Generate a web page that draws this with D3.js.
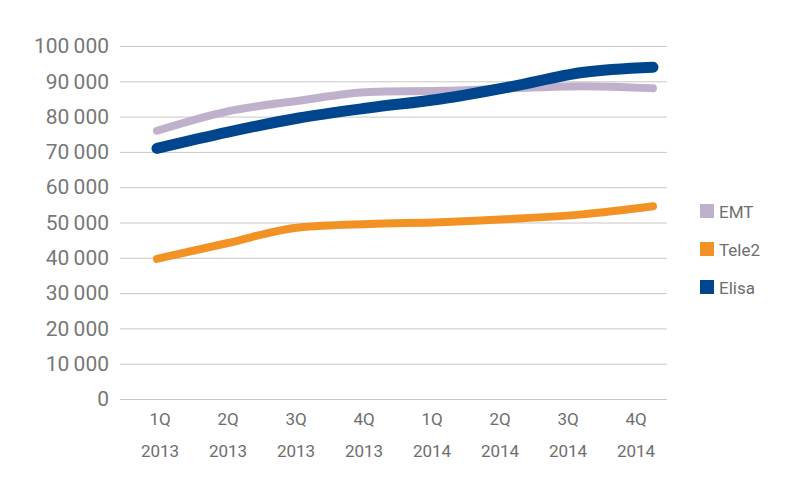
<!DOCTYPE html>
<html>
<head>
<meta charset="utf-8">
<script src="https://cdn.jsdelivr.net/npm/d3@7"></script>
<style>
  body { margin: 0; background: #fff; }
  svg { font-family: Roboto, "DejaVu Sans", sans-serif; }
</style>
</head>
<body>
<div id="container"></div>
<script>
let w = 800;
let h = 477;

// data
let quarters = ["1Q", "2Q", "3Q", "4Q", "1Q", "2Q", "3Q", "4Q"];
let years = ["2013", "2013", "2013", "2013", "2014", "2014", "2014", "2014"];
let emt = [76000, 81500, 84500, 87000, 87300, 88000, 88600, 88000];
let tele2 = [39700, 44200, 48600, 49600, 50100, 51000, 52300, 54600];
let elisa = [71000, 75600, 79600, 82500, 85000, 88500, 92500, 94000];
let yTicks = [0, 10000, 20000, 30000, 40000, 50000, 60000, 70000, 80000, 90000, 100000];

let series = [
  {name: "EMT", values: emt, color: "#bfb1cc", width: 8},
  {name: "Tele2", values: tele2, color: "#f39224", width: 8},
  {name: "Elisa", values: elisa, color: "#00468e", width: 11}
];

let idx = d3.range(quarters.length);

let viz = d3.select("#container").append("svg")
    .attr("width", w)
    .attr("height", h);

let yScale = d3.scaleLinear().domain([0, 100000]).range([399, 46]);
// category slots for the labels
let xBand = d3.scaleBand().domain(idx).range([126, 670]);
// points used by the lines
let xPoint = d3.scalePoint().domain(idx).range([157, 653]);

let fmt = d3.formatLocale({decimal: ",", thousands: "\u2009", grouping: [3], currency: ["", ""]}).format(",d");

// gridlines + y labels
let yAxis = d3.axisLeft(yScale)
  .tickValues(yTicks)
  .tickSize(-(667 - 120))
  .tickPadding(11)
  .tickFormat(fmt);
let yAxisGroup = viz.append("g")
  .attr("transform", "translate(120,0)")
  .call(yAxis);
yAxisGroup.select(".domain").remove();
yAxisGroup.selectAll("line").attr("stroke", "#c8c8c8").attr("stroke-width", 1);
yAxisGroup.selectAll("text")
  .attr("fill", "#777777")
  .style("font-size", "21px")
  .style("font-family", "Roboto, sans-serif");

// x labels (two lines)
let xAxisGroup = viz.append("g").classed("xAxis", true);
xAxisGroup.selectAll("text.q")
  .data(idx)
  .enter()
  .append("text")
  .attr("x", d => xBand(d) + xBand.bandwidth() / 2)
  .attr("y", 425)
  .attr("text-anchor", "middle")
  .attr("fill", "#6e6e6e")
  .style("font-size", "17px")
  .text(d => quarters[d]);
xAxisGroup.selectAll("text.y")
  .data(idx)
  .enter()
  .append("text")
  .attr("x", d => xBand(d) + xBand.bandwidth() / 2)
  .attr("y", 457)
  .attr("text-anchor", "middle")
  .attr("fill", "#6e6e6e")
  .style("font-size", "17px")
  .text(d => years[d]);

// lines
let line = d3.line()
  .x((d, i) => xPoint(i))
  .y(d => yScale(d))
  .curve(d3.curveMonotoneX);

viz.append("g").selectAll("path")
  .data(series)
  .enter()
  .append("path")
  .attr("d", d => line(d.values))
  .attr("fill", "none")
  .attr("stroke", d => d.color)
  .attr("stroke-width", d => d.width)
  .attr("stroke-linecap", "round")
  .attr("stroke-linejoin", "round");

// legend
let legend = viz.append("g").attr("transform", "translate(700,204)");
let items = legend.selectAll("g")
  .data(series)
  .enter()
  .append("g")
  .attr("transform", (d, i) => "translate(0," + (i * 38) + ")");
items.append("rect")
  .attr("width", 14)
  .attr("height", 14)
  .attr("fill", d => d.color);
items.append("text")
  .attr("x", 19)
  .attr("y", 14)
  .attr("fill", "#6e6e6e")
  .style("font-size", "17px")
  .text(d => d.name);
</script>
</body>
</html>
